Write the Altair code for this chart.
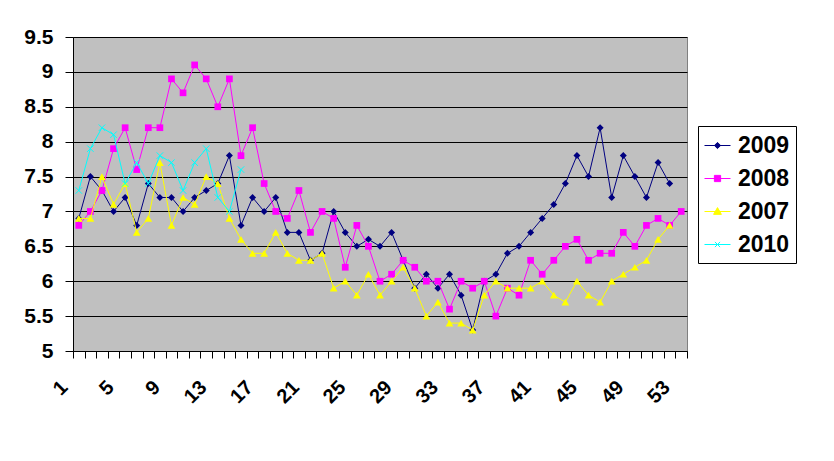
import altair as alt
import pandas as pd

series_names = ["2009", "2008", "2007", "2010"]
series_colors = ["#000080", "#FF00FF", "#FFFF00", "#00FFFF"]

v2009 = [6.9, 7.5, 7.3, 7.0, 7.2, 6.8, 7.4, 7.2, 7.2, 7.0,
         7.2, 7.3, 7.4, 7.8, 6.8, 7.2, 7.0, 7.2, 6.7, 6.7,
         6.3, 6.4, 7.0, 6.7, 6.5, 6.6, 6.5, 6.7, 6.3, 5.9,
         6.1, 5.9, 6.1, 5.8, 5.3, 6.0, 6.1, 6.4, 6.5, 6.7,
         6.9, 7.1, 7.4, 7.8, 7.5, 8.2, 7.2, 7.8, 7.5, 7.2,
         7.7, 7.4]
v2008 = [6.8, 7.0, 7.3, 7.9, 8.2, 7.6, 8.2, 8.2, 8.9, 8.7,
         9.1, 8.9, 8.5, 8.9, 7.8, 8.2, 7.4, 7.0, 6.9, 7.3,
         6.7, 7.0, 6.9, 6.2, 6.8, 6.5, 6.0, 6.1, 6.3, 6.2,
         6.0, 6.0, 5.6, 6.0, 5.9, 6.0, 5.5, 5.9, 5.8, 6.3,
         6.1, 6.3, 6.5, 6.6, 6.3, 6.4, 6.4, 6.7, 6.5, 6.8,
         6.9, 6.8, 7.0]
v2007 = [6.9, 6.9, 7.5, 7.1, 7.4, 6.7, 6.9, 7.7, 6.8, 7.2,
         7.1, 7.5, 7.4, 6.9, 6.6, 6.4, 6.4, 6.7, 6.4, 6.3,
         6.3, 6.4, 5.9, 6.0, 5.8, 6.1, 5.8, 6.0, 6.2, 5.9,
         5.5, 5.7, 5.4, 5.4, 5.3, 5.8, 6.0, 5.9, 5.9, 5.9,
         6.0, 5.8, 5.7, 6.0, 5.8, 5.7, 6.0, 6.1, 6.2, 6.3,
         6.6, 6.8]
v2010 = [7.3, 7.9, 8.2, 8.1, 7.4, 7.7, 7.4, 7.8, 7.7, 7.3,
         7.7, 7.9, 7.2, 7.0, 7.6]

x_boundaries = [k + 0.5 for k in range(0, 54)]
y_ticks = [5.0, 5.5, 6.0, 6.5, 7.0, 7.5, 8.0, 8.5, 9.0, 9.5]

rows = []
for name, vals in zip(series_names, [v2009, v2008, v2007, v2010]):
    for i, v in enumerate(vals):
        rows.append({"week": i + 1, "series": name, "value": v})
df = pd.DataFrame(rows)

FONT = "Liberation Sans"

x_enc = alt.X(
    "week:Q",
    scale=alt.Scale(domain=[0.5, 53.5], nice=False, zero=False),
    axis=alt.Axis(
        values=x_boundaries, title=None, grid=False, tickSize=7,
        tickColor="black", domainColor="black",
        labelExpr="((datum.value + 0.5) - 1) % 4 == 0 ? format(datum.value + 0.5, 'd') : ''",
        labelAngle=315, labelAlign="right", labelBaseline="middle",
        labelOffset=-9, labelPadding=26, labelFont=FONT, labelFontSize=20,
        labelFontWeight="bold", labelColor="black", labelOverlap=False,
        labelFlush=False, labelBound=False,
    ),
)
y_enc = alt.Y(
    "value:Q",
    scale=alt.Scale(domain=[5, 9.5], nice=False, zero=False),
    axis=alt.Axis(
        values=y_ticks, title=None, grid=True, gridColor="black",
        gridOpacity=1, gridWidth=1, tickSize=8, tickColor="black",
        domainColor="black", labelFont=FONT, labelFontSize=21,
        labelFontWeight="bold", labelColor="black", labelPadding=12,
        format="~g", labelFlush=False, labelOverlap=False,
    ),
)

point_shapes = ["diamond", "square", "triangle-up", "M-1,-1L1,1M1,-1L-1,1"]
point_sizes = [49, 45, 60, 42]

layers = []
for name, color, shp, sz in zip(series_names, series_colors, point_shapes, point_sizes):
    base = alt.Chart(df).transform_filter(alt.datum.series == name)
    layers.append(base.mark_line(color=color, strokeWidth=1).encode(x=x_enc, y=y_enc))
    if shp.startswith("M"):
        pts = base.mark_point(shape=shp, filled=False, color=color, size=sz,
                              strokeWidth=1, opacity=1)
    else:
        pts = base.mark_point(shape=shp, filled=True, color=color, size=sz, opacity=1)
    layers.append(pts.encode(x=x_enc, y=y_enc))

legend_shapes = [
    "M-1,0L1,0M0,-0.24L0.24,0L0,0.24L-0.24,0Z",
    "M-1,0L1,0M-0.24,-0.24L0.24,-0.24L0.24,0.24L-0.24,0.24Z",
    "M-1,0L1,0M0,-0.3L0.3,0.22L-0.3,0.22Z",
    "M-1,0L1,0M-0.2,-0.2L0.2,0.2M0.2,-0.2L-0.2,0.2",
]


def make_legend():
    return alt.Legend(
        title=None, orient="none", legendX=625, legendY=89,
        strokeColor="black", fillColor="white", padding=6,
        labelFont=FONT, labelFontSize=23, labelFontWeight="bold",
        labelColor="black", symbolSize=676, symbolStrokeWidth=1,
        rowPadding=7, labelOffset=7, cornerRadius=0,
    )


legend_layer = (
    alt.Chart(df)
    .transform_filter("false")
    .mark_point(filled=True, opacity=1, size=676, strokeWidth=1)
    .encode(
        x=x_enc,
        y=y_enc,
        fill=alt.Fill("series:N", scale=alt.Scale(domain=series_names, range=series_colors),
                      legend=make_legend()),
        stroke=alt.Stroke("series:N", scale=alt.Scale(domain=series_names, range=series_colors),
                          legend=make_legend()),
        shape=alt.Shape("series:N", scale=alt.Scale(domain=series_names, range=legend_shapes),
                        legend=make_legend()),
    )
)
layers.append(legend_layer)

chart = (
    alt.layer(*layers)
    .properties(
        width=614, height=314,
        autosize=alt.AutoSizeParams(type="none"),
        padding={"left": 65, "top": 29, "right": 139, "bottom": 102},
        background="white",
    )
    .configure_view(fill="#C0C0C0", stroke="#808080", strokeWidth=1)
)

chart.save("out.html", embed_options={"renderer": "svg", "actions": False})
